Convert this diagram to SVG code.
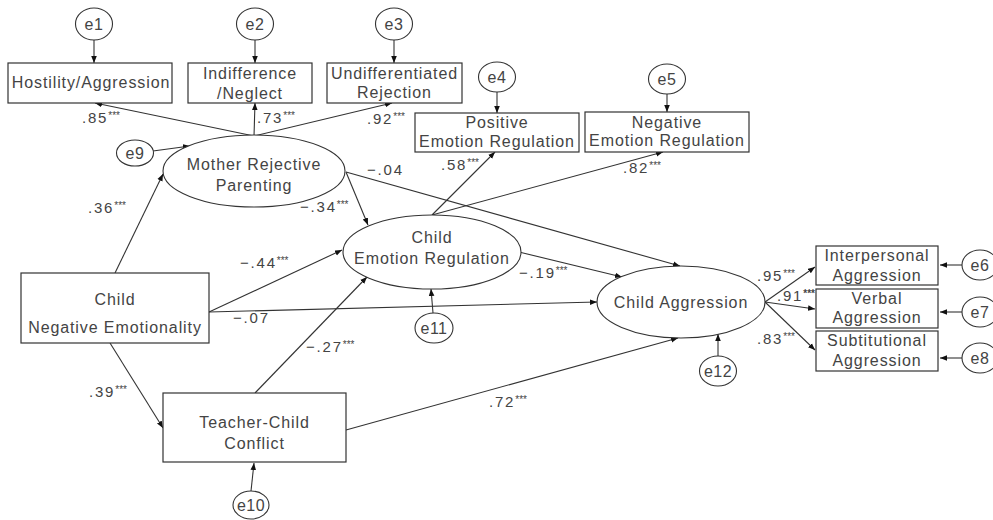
<svg xmlns="http://www.w3.org/2000/svg" width="993" height="520" viewBox="0 0 993 520">
<defs>
<marker id="ah" viewBox="0 0 10 10" refX="10" refY="5" markerWidth="7" markerHeight="7" markerUnits="userSpaceOnUse" orient="auto">
<path d="M0,1 L10,5 L0,9 Z" fill="#111"/>
</marker>
<style>
.b{fill:#fff;stroke:#333;stroke-width:1.2}
.o{fill:#fff;stroke:#333;stroke-width:1.1}
.t{font-family:"Liberation Sans",Arial,sans-serif;font-size:16px;fill:#444;text-anchor:middle;letter-spacing:0.9px}
.e{font-family:"Liberation Sans",Arial,sans-serif;font-size:16px;fill:#444;text-anchor:middle;letter-spacing:0.5px}
.l{font-family:"Liberation Sans",Arial,sans-serif;font-size:15px;fill:#444;letter-spacing:1.8px}
.s{font-size:10px;letter-spacing:0}
.c line{stroke:#333;stroke-width:1.1;marker-end:url(#ah)}
</style>
</defs>
<rect width="993" height="520" fill="#fff"/>

<g class="c" id="connectors">
<line x1="94" y1="40" x2="94" y2="63"/>
<line x1="255" y1="40" x2="255" y2="63"/>
<line x1="394" y1="40" x2="394" y2="63"/>
<line x1="497" y1="92" x2="497" y2="113"/>
<line x1="667" y1="94" x2="667" y2="112"/>
<line x1="254" y1="136" x2="95" y2="103"/>
<line x1="254" y1="136" x2="255" y2="103"/>
<line x1="254" y1="136" x2="392" y2="103"/>
<line x1="153" y1="151" x2="190" y2="146"/>
<line x1="115" y1="273" x2="163" y2="174"/>
<line x1="346" y1="172" x2="368" y2="225"/>
<line x1="346" y1="172" x2="680" y2="266"/>
<line x1="432" y1="215" x2="495" y2="152"/>
<line x1="432" y1="215" x2="663" y2="152"/>
<line x1="209" y1="312" x2="342" y2="250"/>
<line x1="209" y1="312" x2="597" y2="302"/>
<line x1="255" y1="393" x2="367" y2="277"/>
<line x1="110" y1="343" x2="163" y2="428"/>
<line x1="346" y1="430" x2="678" y2="338"/>
<line x1="519" y1="252" x2="622" y2="277"/>
<line x1="433" y1="313" x2="431" y2="289"/>
<line x1="718" y1="356" x2="718" y2="334"/>
<line x1="251" y1="491" x2="254" y2="463"/>
<line x1="765" y1="302" x2="815" y2="267"/>
<line x1="765" y1="302" x2="815" y2="309"/>
<line x1="765" y1="302" x2="815" y2="350"/>
<line x1="962" y1="265" x2="940" y2="265"/>
<line x1="962" y1="312" x2="940" y2="312"/>
<line x1="962" y1="358" x2="940" y2="358"/>
</g>

<g id="e1"><ellipse class="o" cx="94" cy="24" rx="18.5" ry="16"/><text class="e" x="94" y="30">e1</text></g>
<g id="e2"><ellipse class="o" cx="255" cy="24" rx="18.5" ry="16"/><text class="e" x="255" y="30">e2</text></g>
<g id="e3"><ellipse class="o" cx="394" cy="24" rx="18.5" ry="16"/><text class="e" x="394" y="30">e3</text></g>
<g id="e4"><ellipse class="o" cx="497" cy="77" rx="18.5" ry="15"/><text class="e" x="497" y="83">e4</text></g>
<g id="e5"><ellipse class="o" cx="667" cy="79" rx="18.5" ry="15"/><text class="e" x="667" y="85">e5</text></g>
<g id="e6"><ellipse class="o" cx="980" cy="265" rx="18" ry="15"/><text class="e" x="980" y="271">e6</text></g>
<g id="e7"><ellipse class="o" cx="980" cy="312" rx="18" ry="15"/><text class="e" x="980" y="318">e7</text></g>
<g id="e8"><ellipse class="o" cx="980" cy="358" rx="18" ry="15"/><text class="e" x="980" y="364">e8</text></g>
<g id="e9"><ellipse class="o" cx="135" cy="153" rx="18.5" ry="13"/><text class="e" x="135" y="159">e9</text></g>
<g id="e10"><ellipse class="o" cx="251" cy="505" rx="18" ry="14"/><text class="e" x="251" y="511">e10</text></g>
<g id="e11"><ellipse class="o" cx="434" cy="328" rx="19" ry="15"/><text class="e" x="434" y="334">e11</text></g>
<g id="e12"><ellipse class="o" cx="718" cy="371" rx="18.5" ry="15"/><text class="e" x="718" y="377">e12</text></g>

<g id="hostility"><rect class="b" x="8" y="63" width="164" height="40"/><text class="t" x="91" y="88">Hostility/Aggression</text></g>
<g id="indifference"><rect class="b" x="188" y="63" width="124" height="40"/><text class="t" x="250" y="79">Indifference</text><text class="t" x="250" y="99">/Neglect</text></g>
<g id="undifferentiated"><rect class="b" x="327" y="63" width="135" height="40"/><text class="t" x="394.5" y="79">Undifferentiated</text><text class="t" x="394.5" y="98">Rejection</text></g>
<g id="positive"><rect class="b" x="415" y="113" width="164" height="39"/><text class="t" x="497" y="128">Positive</text><text class="t" x="497" y="147">Emotion Regulation</text></g>
<g id="negative"><rect class="b" x="585" y="112" width="164" height="40"/><text class="t" x="667" y="128">Negative</text><text class="t" x="667" y="146">Emotion Regulation</text></g>
<g id="mrp"><ellipse class="o" cx="254" cy="171" rx="91" ry="36"/><text class="t" x="254" y="170">Mother Rejective</text><text class="t" x="254" y="191">Parenting</text></g>
<g id="cer"><ellipse class="o" cx="432" cy="252" rx="89" ry="37"/><text class="t" x="432" y="243">Child</text><text class="t" x="432" y="264">Emotion Regulation</text></g>
<g id="ca"><ellipse class="o" cx="681" cy="302" rx="84" ry="36"/><text class="t" x="681" y="308">Child Aggression</text></g>
<g id="cne"><rect class="b" x="21" y="273" width="188" height="70"/><text class="t" x="115" y="305">Child</text><text class="t" x="115" y="333">Negative Emotionality</text></g>
<g id="teacher"><rect class="b" x="163" y="393" width="183" height="69"/><text class="t" x="254.5" y="428">Teacher-Child</text><text class="t" x="254.5" y="449">Conflict</text></g>
<g id="interpersonal"><rect class="b" x="816" y="246" width="122" height="39"/><text class="t" x="877" y="261">Interpersonal</text><text class="t" x="877" y="281">Aggression</text></g>
<g id="verbal"><rect class="b" x="816" y="289" width="122" height="39"/><text class="t" x="877" y="304">Verbal</text><text class="t" x="877" y="323">Aggression</text></g>
<g id="subtitutional"><rect class="b" x="816" y="331" width="122" height="40"/><text class="t" x="877" y="346">Subtitutional</text><text class="t" x="877" y="366">Aggression</text></g>

<g id="labels">
<text class="l" x="82" y="123">.85<tspan class="s" dy="-4">***</tspan></text>
<text class="l" x="257" y="123">.73<tspan class="s" dy="-4">***</tspan></text>
<text class="l" x="367" y="124">.92<tspan class="s" dy="-4">***</tspan></text>
<text class="l" x="441" y="170">.58<tspan class="s" dy="-4">***</tspan></text>
<text class="l" x="623" y="173">.82<tspan class="s" dy="-4">***</tspan></text>
<text class="l" x="367" y="175">−.04</text>
<text class="l" x="300" y="212">−.34<tspan class="s" dy="-4">***</tspan></text>
<text class="l" x="88" y="213">.36<tspan class="s" dy="-4">***</tspan></text>
<text class="l" x="240" y="268">−.44<tspan class="s" dy="-4">***</tspan></text>
<text class="l" x="233" y="323">−.07</text>
<text class="l" x="306" y="352">−.27<tspan class="s" dy="-4">***</tspan></text>
<text class="l" x="89" y="397">.39<tspan class="s" dy="-4">***</tspan></text>
<text class="l" x="519" y="278">−.19<tspan class="s" dy="-4">***</tspan></text>
<text class="l" x="489" y="407">.72<tspan class="s" dy="-4">***</tspan></text>
<text class="l" x="757" y="281">.95<tspan class="s" dy="-4">***</tspan></text>
<text class="l" x="777" y="301">.91<tspan class="s" dy="-4" font-weight="bold">***</tspan></text>
<text class="l" x="757" y="344">.83<tspan class="s" dy="-4">***</tspan></text>
</g>
</svg>
